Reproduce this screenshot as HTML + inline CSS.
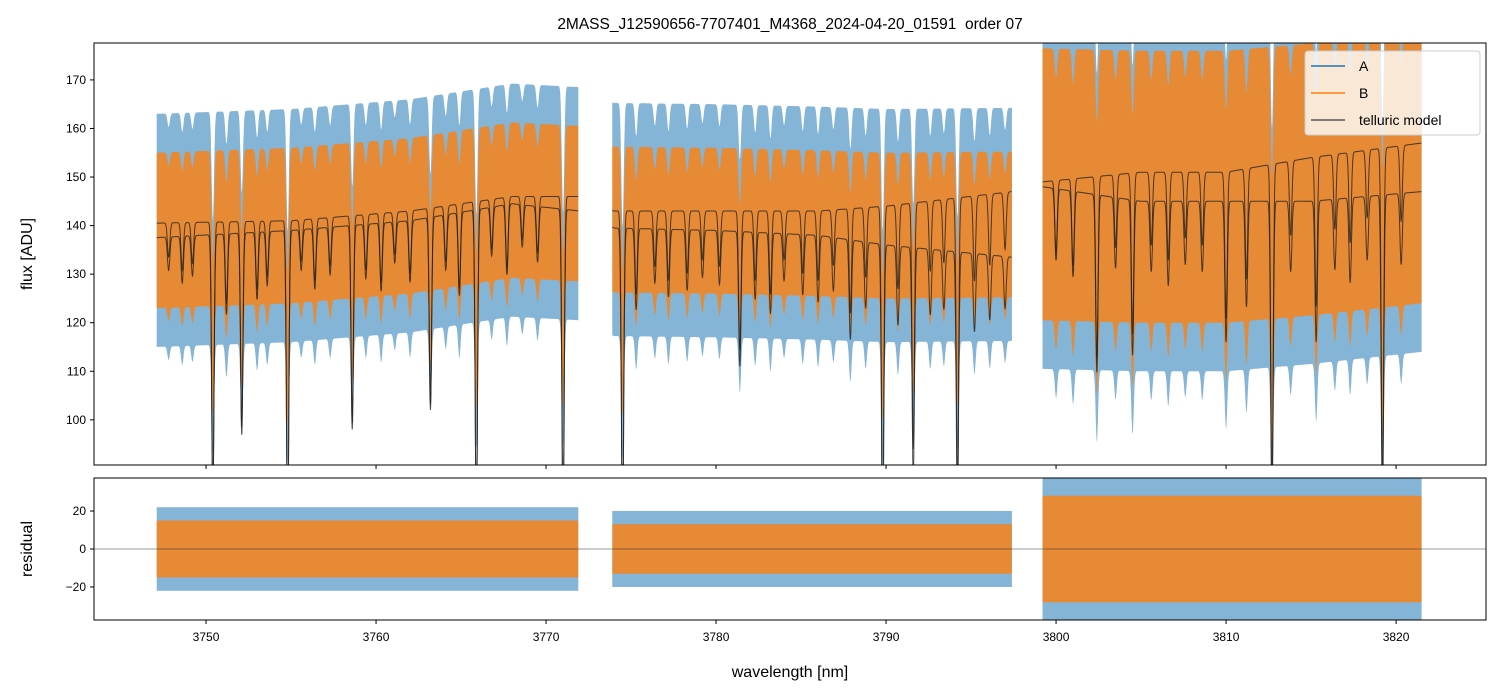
<!DOCTYPE html>
<html><head><meta charset="utf-8"><style>
body{margin:0;background:#fff;}
svg{display:block;font-family:"Liberation Sans","DejaVu Sans",sans-serif;}
</style></head><body>
<svg id="chart" width="1502" height="696" xmlns="http://www.w3.org/2000/svg"></svg>
<script>
// ---- data ----
const segments = [[3747.1,3771.9],[3773.9,3797.4],[3799.2,3821.5]];
const contUpperW = [3747,3755,3762,3768,3772,3774,3780,3786,3790,3797.4,3799.2,3805,3810,3815,3821.5];
const contUpperV = [140.5,141,143,146,146,143,143,143,144,147,149,151,151,154,157];
const contLowerW = [3747,3755,3762,3768,3772,3774,3780,3786,3790,3797.4,3799.2,3805,3810,3815,3821.5];
const contLowerV = [137.5,139,141,144.5,143,139.5,139,138,136,133.5,148,145,145,145,147];
const lineCenters = [3747.8,3748.6,3749.2,3750.4,3751.2,3752.1,3753.0,3753.6,3754.8,3755.6,3756.4,3757.3,3758.6,3759.4,3760.3,3761.1,3762.0,3763.2,3764.1,3764.9,3765.9,3766.8,3767.7,3768.6,3769.5,3771.0,3774.5,3775.3,3776.4,3777.2,3778.3,3779.2,3780.2,3781.4,3782.3,3783.2,3784.0,3785.1,3786.0,3786.9,3787.9,3788.8,3789.8,3790.7,3791.6,3792.6,3793.4,3794.2,3795.2,3796.1,3797.0,3800.0,3801.0,3802.4,3803.5,3804.5,3805.6,3806.6,3807.6,3808.6,3810.0,3811.2,3812.7,3813.8,3815.3,3816.4,3817.3,3818.3,3819.2,3820.3];
const lineDepths = [0.05,0.07,0.06,0.4,0.12,0.3,0.1,0.08,0.45,0.06,0.09,0.07,0.3,0.08,0.1,0.06,0.09,0.28,0.08,0.12,0.45,0.07,0.1,0.06,0.08,0.45,0.45,0.12,0.08,0.1,0.09,0.07,0.08,0.2,0.1,0.12,0.07,0.09,0.1,0.08,0.15,0.1,0.45,0.12,0.35,0.1,0.09,0.4,0.12,0.1,0.08,0.1,0.12,0.25,0.1,0.22,0.1,0.12,0.09,0.1,0.2,0.15,0.45,0.1,0.2,0.1,0.12,0.09,0.45,0.1];
const fluxAmpA = [24,24,38];
const fluxAmpB = [16,15,28];
const residAmpA = [22,20,38];
const residAmpB = [15,13,28];
const xTicks = [3750,3760,3770,3780,3790,3800,3810,3820];
const yTicksTop = [100,110,120,130,140,150,160,170];
const yTicksBot = [-20,0,20];

// ---- axes ----
const NS="http://www.w3.org/2000/svg";
const svg=document.getElementById('chart');
const L=94,R=1486,T1=43,B1=465,T2=478,B2=620;
const X0=3743.41,X1=3825.29;
const x=w=>L+(w-X0)/(X1-X0)*(R-L);
const yTop=v=>T1+(177.6-v)/(177.6-90.7)*(B1-T1);
const yBot=v=>T2+(37.4-v)/(74.8)*(B2-T2);
function el(tag,attrs,parent){const e=document.createElementNS(NS,tag);for(const k in attrs)e.setAttribute(k,attrs[k]);(parent||svg).appendChild(e);return e;}
function interp(ws,vs,w){if(w<=ws[0])return vs[0];for(let i=1;i<ws.length;i++){if(w<=ws[i]){const t=(w-ws[i-1])/(ws[i]-ws[i-1]);return vs[i-1]+t*(vs[i]-vs[i-1]);}}return vs[vs.length-1];}
function absorb(w){let f=1;for(let i=0;i<lineCenters.length;i++){const d=(w-lineCenters[i])/0.07;if(Math.abs(d)<6)f*=1-lineDepths[i]*Math.exp(-d*d/2);}return f;}

const defs=el('defs',{});
const c1=el('clipPath',{id:'c1'},defs);el('rect',{x:L,y:T1,width:R-L,height:B1-T1},c1);
const c2=el('clipPath',{id:'c2'},defs);el('rect',{x:L,y:T2,width:R-L,height:B2-T2},c2);
const gTop=el('g',{'clip-path':'url(#c1)'});


const gBot=el('g',{'clip-path':'url(#c2)'});



function band(g,seg,fn,amp,yf,color,op,name){
  const up=[],lo=[];
  for(let w=seg[0];w<=seg[1];w+=0.02){const m=fn(w);up.push(x(w).toFixed(1)+','+yf(m+amp).toFixed(1));lo.unshift(x(w).toFixed(1)+','+yf(m-amp).toFixed(1));}
  const p=el('polygon',{points:up.concat(lo).join(' '),fill:color,'fill-opacity':op},g);
  
  
}
function curve(g,seg,fn,yf,name){
  const pts=[];for(let w=seg[0];w<=seg[1];w+=0.01)pts.push(x(w).toFixed(1)+','+yf(fn(w)).toFixed(1));
  const p=el('polyline',{points:pts.join(' '),fill:'none',stroke:'#222','stroke-opacity':0.8,'stroke-width':1},g);
  
  
}
const mU=w=>interp(contUpperW,contUpperV,w)*absorb(w);
const mL=w=>interp(contLowerW,contLowerV,w)*absorb(w);
const mMid=w=>(interp(contUpperW,contUpperV,w)+interp(contLowerW,contLowerV,w))/2*(1-0.4*(1-absorb(w)));
segments.forEach((s,i)=>{
  band(gTop,s,mMid,fluxAmpA[i],yTop,'#1f77b4',0.55,'flux-a-seg'+i);
  band(gTop,s,mMid,fluxAmpB[i],yTop,'#ff7f0e',0.8,'flux-b-seg'+i);
  curve(gTop,s,mU,yTop,'telluric-upper-seg'+i);
  curve(gTop,s,mL,yTop,'telluric-lower-seg'+i);
  band(gBot,s,()=>0,residAmpA[i],yBot,'#1f77b4',0.55,'resid-a-seg'+i);
  band(gBot,s,()=>0,residAmpB[i],yBot,'#ff7f0e',0.8,'resid-b-seg'+i);
});
const zl=el('line',{x1:L,x2:R,y1:yBot(0),y2:yBot(0),stroke:'#333','stroke-width':0.6});



[[T1,B1],[T2,B2]].forEach((b,i)=>{const r=el('rect',{x:L,y:b[0],width:R-L,height:b[1]-b[0],fill:'none',stroke:'#000','stroke-width':1});

});
xTicks.forEach(t=>{const px=x(t);
  el('line',{x1:px,x2:px,y1:B1,y2:B1+4,stroke:'#000'});
  el('line',{x1:px,x2:px,y1:B2,y2:B2+4,stroke:'#000'});
  const tx=el('text',{x:px,y:B2+21,'font-size':12,'text-anchor':'middle'});tx.textContent=t;
  
  });
yTicksTop.forEach(t=>{const py=yTop(t);el('line',{x1:L-4,x2:L,y1:py,y2:py,stroke:'#000'});
  const tx=el('text',{x:L-8,y:py+4,'font-size':12,'text-anchor':'end'});tx.textContent=t;
  
  });
yTicksBot.forEach(t=>{const py=yBot(t);el('line',{x1:L-4,x2:L,y1:py,y2:py,stroke:'#000'});
  const tx=el('text',{x:L-8,y:py+4,'font-size':12,'text-anchor':'end'});tx.textContent=t<0?'\u2212'+(-t):t;
  
  });
function txt(s,a,name){const t=el('text',a);t.textContent=s;return t;}
txt('2MASS_J12590656-7707401_M4368_2024-04-20_01591\u00a0\u00a0order 07',{x:790,y:29,'font-size':15.5,'text-anchor':'middle'},'chart-title');
txt('wavelength [nm]',{x:790,y:677,'font-size':16,'text-anchor':'middle'},'x-axis-title');
txt('flux [ADU]',{x:0,y:0,'font-size':16,'text-anchor':'middle',transform:'translate(32,254) rotate(-90)'},'y-axis-title');
txt('residual',{x:0,y:0,'font-size':16,'text-anchor':'middle',transform:'translate(32,549) rotate(-90)'},'residual-axis-title');
const lg=el('g',{});


el('rect',{x:1305,y:51,width:175,height:84,rx:3,fill:'#fff','fill-opacity':0.8,stroke:'#ccc'},lg);
[['A','#1f77b4'],['B','#ff7f0e'],['telluric model','#555']].forEach((e,i)=>{
  const yy=66+i*27;
  el('line',{x1:1311,x2:1345,y1:yy,y2:yy,stroke:e[1],'stroke-width':1.5},lg);
  const t=el('text',{x:1359,y:yy+5,'font-size':14},lg);t.textContent=e[0];
  
  
});
</script>
</body></html>
